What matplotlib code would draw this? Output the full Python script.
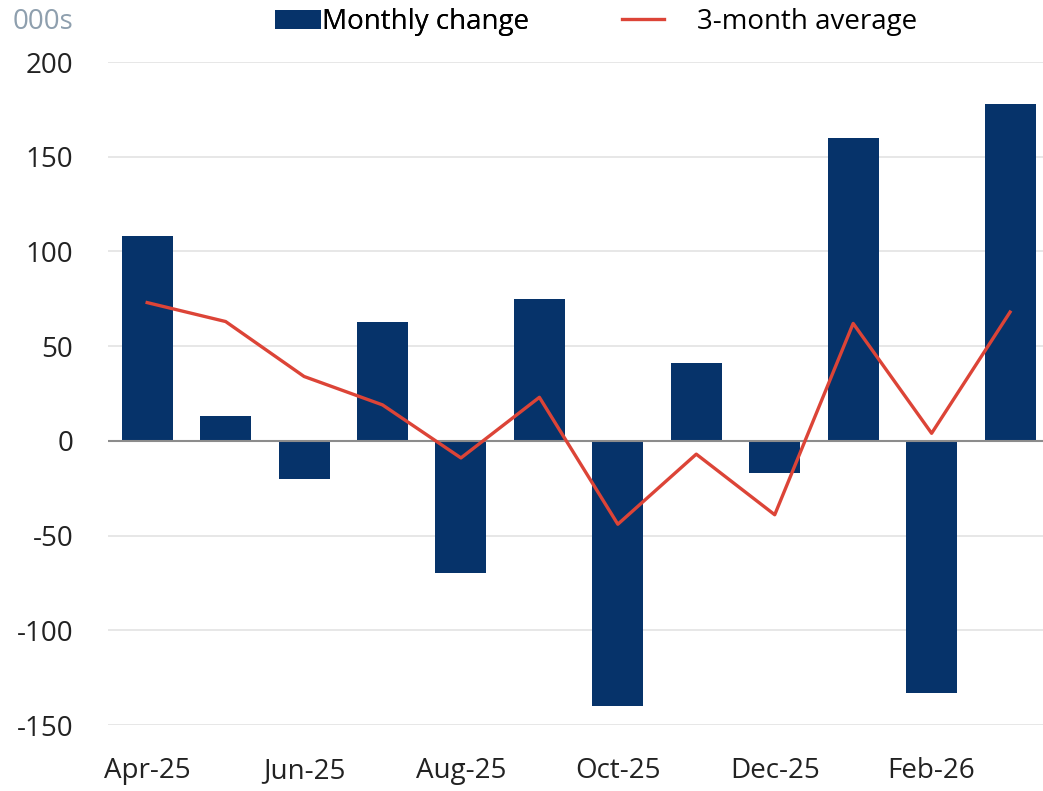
import numpy as np
import matplotlib
matplotlib.use("Agg")
import matplotlib.pyplot as plt

plt.rcParams['font.family'] = ['Open Sans', 'DejaVu Sans']
plt.rcParams['axes.unicode_minus'] = False

# data (000s)
months = ['Apr-25', 'May-25', 'Jun-25', 'Jul-25', 'Aug-25', 'Sep-25',
          'Oct-25', 'Nov-25', 'Dec-25', 'Jan-26', 'Feb-26', 'Mar-26']
monthly = [108, 13, -20, 63, -70, 75, -140, 41, -17, 160, -133, 178]
avg3 = [73, 63, 34, 19, -9, 23, -44, -7, -39, 62, 4, 68]

navy = '#06336a'
red = '#dc4437'
fs = 20

fig = plt.figure(figsize=(10.43, 7.91), dpi=100)
ax = fig.add_axes([0.1035, 0.0834, 0.8965, 0.8382])

x = np.arange(len(months))
bars = ax.bar(x, monthly, width=0.65, color=navy, zorder=3, label='Monthly change')
line, = ax.plot(x, avg3, color=red, lw=2.4, zorder=4, label='3-month average')

ax.set_xlim(-0.5, 11.42)
ax.set_ylim(-150, 200)
ax.set_yticks(np.arange(-150, 201, 50))
ax.set_xticks(x[::2])
ax.set_xticklabels(months[::2])

ax.grid(axis='y', color='#e3e3e3', lw=1.2, zorder=0)
ax.axhline(0, color='#8c8c8c', lw=1.5, zorder=3.5)
for s in ax.spines.values():
    s.set_visible(False)
ax.tick_params(axis='both', length=0, labelsize=fs, colors='#222222')
ax.tick_params(axis='y', pad=25)
ax.tick_params(axis='x', pad=23)

fig.text(0.012, 0.972, '000s', color='#8e9fae', fontsize=fs, va='center', ha='left')

# legend: bar key sits right against its text, line key has a gap
leg1 = fig.legend([bars], ['Monthly change'], loc='center left',
                  bbox_to_anchor=(0.2637, 0.972), frameon=False, fontsize=fs,
                  handlelength=1.65, handleheight=0.7, handletextpad=0.05,
                  borderaxespad=0, borderpad=0)
fig.add_artist(leg1)
fig.legend([line], ['3-month average'], loc='center left',
           bbox_to_anchor=(0.5964, 0.972), frameon=False, fontsize=fs,
           handlelength=1.5, handletextpad=1.2, borderaxespad=0, borderpad=0)

fig.savefig('out.png', dpi=100)
